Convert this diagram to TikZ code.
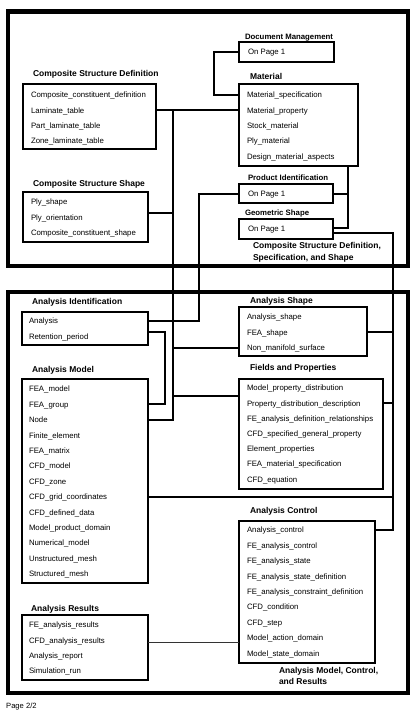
\documentclass[tikz,border=0pt]{standalone}
\usepackage{fontspec}
\setmainfont{Liberation Sans}
\usetikzlibrary{calc}
\tikzset{
  box/.style={draw, line width=2pt, inner sep=0pt, outer sep=0pt, anchor=north west},
  item/.style={anchor=west, inner sep=0pt, outer sep=0pt, font=\fontsize{7.8}{9}\selectfont, text height=5.6pt, text depth=0pt},
  ttl/.style={anchor=west, inner sep=0pt, outer sep=0pt, font=\bfseries\fontsize{8.5}{10}\selectfont, text height=6.1pt, text depth=0pt},
  rttl/.style={anchor=west, inner sep=0pt, outer sep=0pt, font=\bfseries\fontsize{7.8}{9}\selectfont, text height=5.6pt, text depth=0pt},
  conn/.style={line width=2pt},
  thinconn/.style={line width=0.9pt, black!80},
  frame/.style={line width=4.5pt},
}
\begin{document}
\begin{tikzpicture}[x=1pt, y=-1pt]
\useasboundingbox (0,0) rectangle (419,716);

% frames
\draw[frame] (8,11.5) rectangle (408,266);
\draw[frame] (8,292) rectangle (408,693);

% ---------- top section ----------
\node[rttl] (docmT) at (245,37) {Document Management};
\node[box, minimum width=95pt, minimum height=20pt] (docm) at (239,42) {};
\node[item] (docm-1) at (248,52) {On Page 1};

\node[ttl] (matT) at (250,76) {Material};
\node[box, minimum width=119pt, minimum height=82pt] (mat) at (239,84) {};
\foreach \t [count=\i] in {Material\_specification, Material\_property, Stock\_material, Ply\_material, Design\_material\_aspects}
  \node[item] (mat-\i) at (247,{95+15.3*(\i-1)}) {\t};

\node[rttl] (prodT) at (248,178) {Product Identification};
\node[box, minimum width=94pt, minimum height=19pt] (prod) at (239,184) {};
\node[item] (prod-1) at (248,193.5) {On Page 1};

\node[rttl] (geoT) at (245,213) {Geometric Shape};
\node[box, minimum width=94pt, minimum height=20pt] (geo) at (239,219) {};
\node[item] (geo-1) at (248,229) {On Page 1};

\node[ttl] (cap1a) at (253,245.5) {Composite Structure Definition,};
\node[ttl] (cap1b) at (253,257) {Specification, and Shape};

\node[ttl] (csdT) at (33,73) {Composite Structure Definition};
\node[box, minimum width=133pt, minimum height=65pt] (csd) at (23,84) {};
\foreach \t [count=\i] in {Composite\_constituent\_definition, Laminate\_table, Part\_laminate\_table, Zone\_laminate\_table}
  \node[item] (csd-\i) at (31,{95+15.3*(\i-1)}) {\t};

\node[ttl] (cssT) at (33,183) {Composite Structure Shape};
\node[box, minimum width=125pt, minimum height=50pt] (css) at (23,192) {};
\foreach \t [count=\i] in {Ply\_shape, Ply\_orientation, Composite\_constituent\_shape}
  \node[item] (css-\i) at (31,{202+15.2*(\i-1)}) {\t};

% ---------- bottom section ----------
\node[ttl] (aiT) at (32,301) {Analysis Identification};
\node[box, minimum width=126pt, minimum height=33pt] (ai) at (22,312) {};
\foreach \t [count=\i] in {Analysis, Retention\_period}
  \node[item] (ai-\i) at (29,{321+15.3*(\i-1)}) {\t};

\node[ttl] (amT) at (32,369) {Analysis Model};
\node[box, minimum width=126pt, minimum height=204pt] (am) at (22,379) {};
\foreach \t [count=\i] in {FEA\_model, FEA\_group, Node, Finite\_element, FEA\_matrix, CFD\_model, CFD\_zone, CFD\_grid\_coordinates, CFD\_defined\_data, Model\_product\_domain, Numerical\_model, Unstructured\_mesh, Structured\_mesh}
  \node[item] (am-\i) at (29,{389+15.4*(\i-1)}) {\t};

\node[ttl] (arT) at (31,608) {Analysis Results};
\node[box, minimum width=126pt, minimum height=65pt] (ar) at (22,615) {};
\foreach \t [count=\i] in {FE\_analysis\_results, CFD\_analysis\_results, Analysis\_report, Simulation\_run}
  \node[item] (ar-\i) at (29,{625+15.3*(\i-1)}) {\t};

\node[ttl] (asT) at (250,300) {Analysis Shape};
\node[box, minimum width=128pt, minimum height=49pt] (as) at (239,307) {};
\foreach \t [count=\i] in {Analysis\_shape, FEA\_shape, Non\_manifold\_surface}
  \node[item] (as-\i) at (247,{317+15.5*(\i-1)}) {\t};

\node[ttl] (fpT) at (250,367) {Fields and Properties};
\node[box, minimum width=144pt, minimum height=110pt] (fp) at (239,379) {};
\foreach \t [count=\i] in {Model\_property\_distribution, Property\_distribution\_description, FE\_analysis\_definition\_relationships, CFD\_specified\_general\_property, Element\_properties, FEA\_material\_specification, CFD\_equation}
  \node[item] (fp-\i) at (247,{388+15.2*(\i-1)}) {\t};

\node[ttl] (acT) at (250,510) {Analysis Control};
\node[box, minimum width=136pt, minimum height=142pt] (ac) at (239,521) {};
\foreach \t [count=\i] in {Analysis\_control, FE\_analysis\_control, FE\_analysis\_state, FE\_analysis\_state\_definition, FE\_analysis\_constraint\_definition, CFD\_condition, CFD\_step, Model\_action\_domain, Model\_state\_domain}
  \node[item] (ac-\i) at (247,{530+15.4*(\i-1)}) {\t};

\node[ttl] (cap2a) at (279,670) {Analysis Model, Control,};
\node[ttl] (cap2b) at (279,681) {and Results};

\node[anchor=west, inner sep=0pt, font=\fontsize{7.6}{9}\selectfont, text height=5.4pt, text depth=0pt] (page) at (6,706) {Page 2/2};

% ---------- connectors ----------
\coordinate (busL) at (173,0);
\coordinate (busP) at (199,0);
\coordinate (busD) at (214,0);
\coordinate (busM) at (348,0);
\coordinate (busR) at (393,0);
\coordinate (busA) at (165,0);

\draw[conn] (docm.west) -- (busD |- docm.west) |- (mat.west |- mat-1);
\draw[conn] (csd.east |- csd-2) -- (mat.west |- csd-2);
\draw[conn] (busL |- csd-2) -- (busL |- am-3) -- (am.east |- am-3);
\coordinate (cssR) at ($(css.east)+(0,-4)$);
\draw[conn] (cssR) -- (busL |- cssR);
\draw[conn] (busL |- as-3) -- (as.west |- as-3);
\coordinate (fpL) at ($(fp-1)!0.5!(fp-2)$);
\draw[conn] (busL |- fpL) -- (fp.west |- fpL);

\draw[conn] (prod.west) -- (busP |- prod.west) |- (ai.east |- ai-1);

\coordinate (geoU) at ($(geo.east)+(0,-1)$);
\draw[conn] (busM |- mat.south) |- (geoU);
\draw[conn] (prod.east) -- (busM |- prod.east);

\coordinate (geoR) at ($(geo.east)+(0,4)$);
\draw[conn] (geoR) -| (busR |- ac-1) -- (ac.east |- ac-1);
\draw[conn] (as.east) -- (busR |- as.east);
\draw[conn] (fp.east |- fp-2) -- (busR |- fp-2);
\draw[conn] (am.east |- am-8) -- (busR |- am-8);

\coordinate (aiR) at ($(ai.east |- ai-2)+(0,-4)$);
\draw[conn] (aiR) -- (busA |- aiR) |- (am.east |- am-2);

\coordinate (arR) at ($(ar.east |- ar-2)+(0,2)$);
\draw[thinconn] (arR) -- (ac.west |- arR);
\end{tikzpicture}
\end{document}
